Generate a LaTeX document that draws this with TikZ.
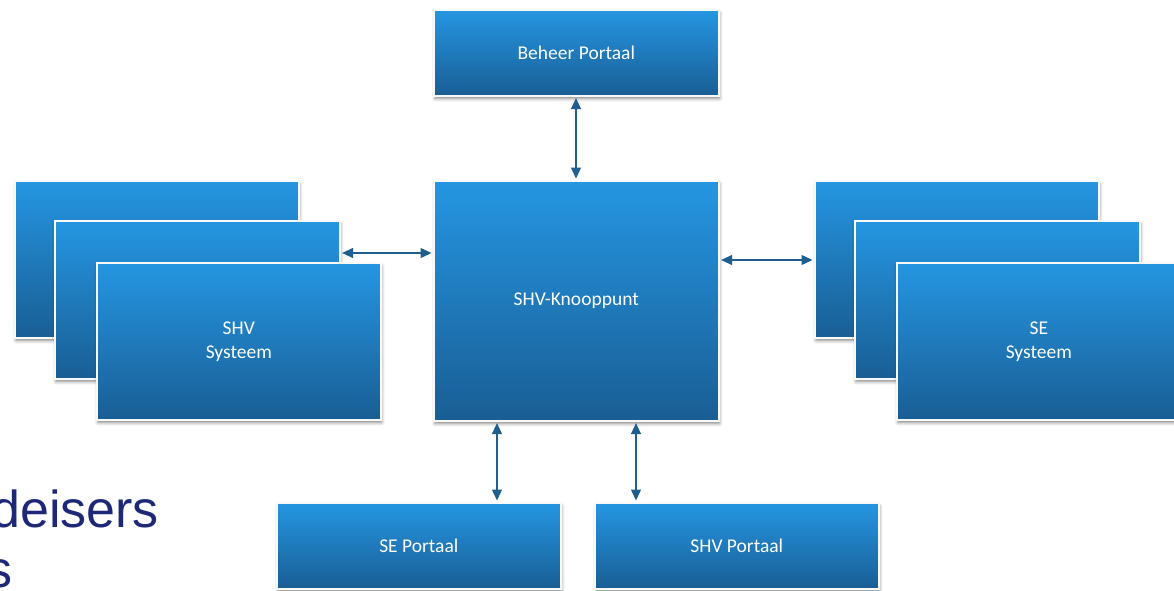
\documentclass[tikz,border=0pt]{standalone}
\usepackage{fontspec}
\setmainfont{Carlito}
\newfontfamily\arialfont{Liberation Sans}
\usetikzlibrary{arrows.meta,shadows.blur}
\definecolor{boxtop}{RGB}{37,150,226}
\definecolor{boxbot}{RGB}{25,94,148}
\definecolor{arrowcol}{RGB}{30,95,143}
\definecolor{navy}{RGB}{30,40,120}
\tikzset{
  box/.style={draw=white!95!gray, line width=1.6pt, top color=boxtop, bottom color=boxbot,
    blur shadow={shadow xshift=1pt, shadow yshift=-3pt, shadow blur radius=3pt, shadow opacity=45},
    text=white, align=center, anchor=north west, inner sep=0pt,
    font=\fontsize{19.5}{24}\selectfont},
  conn/.style={draw=arrowcol, line width=1.3pt, {Triangle[length=11pt,width=10pt]}-{Triangle[length=11pt,width=10pt]}, shorten <=1.5pt, shorten >=1.5pt},
  slidetext/.style={text=navy, font=\arialfont\fontsize{52}{60}\selectfont, inner sep=0pt}
}
\begin{document}
\begin{tikzpicture}[x=1pt,y=-1pt]
\useasboundingbox (0,0) rectangle (1174,590);
\clip (0,0) rectangle (1174,590);
% slide text behind
\node[slidetext, anchor=base west] (t1) at (-9,527) {deisers};
\node[slidetext, anchor=base east] (t2) at (13,587) {s};
% top
\node[box, minimum width=285pt, minimum height=86pt] (beheer) at (433,9) {Beheer Portaal};
% center
\node[box, minimum width=285pt, minimum height=240pt] (knoop) at (433,180) {SHV-Knooppunt};
% left stack
\node[box, minimum width=284pt, minimum height=157pt] (l1) at (14,180) {};
\node[box, minimum width=285pt, minimum height=158pt] (l2) at (54,220) {};
\node[box, minimum width=284pt, minimum height=157pt] (l3) at (96,262) {SHV\\Systeem};
% right stack
\node[box, minimum width=284pt, minimum height=157pt] (r1) at (814,180) {};
\node[box, minimum width=285pt, minimum height=158pt] (r2) at (854,220) {};
\node[box, minimum width=284pt, minimum height=157pt] (r3) at (896,262) {SE\\Systeem};
% bottom
\node[box, minimum width=284pt, minimum height=86pt] (sep) at (276,502) {SE Portaal};
\node[box, minimum width=284pt, minimum height=86pt] (shvp) at (594,502) {SHV Portaal};
% connectors
\draw[conn] (beheer.south -| 576,0) -- (knoop.north -| 576,0);
\draw[conn] (l2.east |- 0,253) -- (knoop.west |- 0,253);
\draw[conn] (knoop.east |- 0,260) -- (r1.west |- 0,260);
\draw[conn] (knoop.south -| 497,0) -- (sep.north -| 497,0);
\draw[conn] (knoop.south -| 636,0) -- (shvp.north -| 636,0);
\end{tikzpicture}
\end{document}
